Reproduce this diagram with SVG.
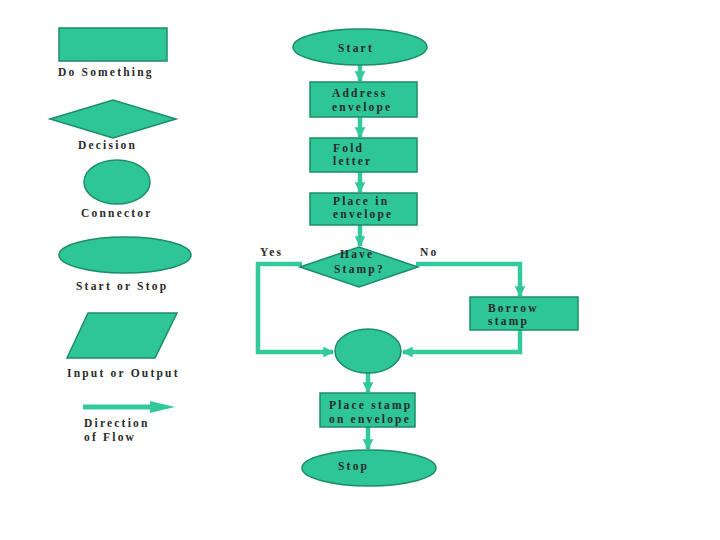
<svg xmlns="http://www.w3.org/2000/svg" width="720" height="540" viewBox="0 0 720 540">
<style>
.s{fill:#2ec597;stroke:#1d8c68;stroke-width:1.5}
.t{font-family:"Liberation Serif",serif;font-weight:bold;font-size:11.5px;fill:#2a2a2a;letter-spacing:2.2px}
.c{fill:none;stroke:#34c99b;stroke-width:4.5}
</style>
<defs>
<marker id="a" viewBox="0 0 10 10" refX="9" refY="5" markerWidth="2.4" markerHeight="2.4" orient="auto" markerUnits="strokeWidth">
<path d="M0,0L10,5L0,10z" fill="#34c99b"/>
</marker>
</defs>
<rect width="720" height="540" fill="#fff"/>
<g id="legend">
<g id="leg-rect"><rect class="s" x="59" y="28" width="108" height="33"/><text class="t" x="58" y="76">Do Something</text></g>
<g id="leg-decision"><polygon class="s" points="50,119 113,100 176,119 113,138"/><text class="t" x="78" y="149">Decision</text></g>
<g id="leg-connector"><ellipse class="s" cx="117" cy="182" rx="33" ry="22"/><text class="t" x="81" y="217">Connector</text></g>
<g id="leg-terminal"><ellipse class="s" cx="125" cy="255" rx="66" ry="18"/><text class="t" x="76" y="290">Start or Stop</text></g>
<g id="leg-io"><polygon class="s" points="88,313 177,313 155,358 67,358"/><text class="t" x="67" y="377">Input or Output</text></g>
<g id="leg-flow"><path d="M83,407H152" stroke="#34c99b" stroke-width="5"/><polygon points="150,401 175,407 150,413" fill="#34c99b"/><text class="t" x="84" y="427">Direction</text><text class="t" x="84" y="441">of Flow</text></g>
</g>
<g id="connectors">
<path class="c" d="M360,65V81" marker-end="url(#a)"/>
<path class="c" d="M360,117V137" marker-end="url(#a)"/>
<path class="c" d="M360,172V192" marker-end="url(#a)"/>
<path class="c" d="M360,225V246" marker-end="url(#a)"/>
<path class="c" d="M302,264H258V352H333" marker-end="url(#a)"/>
<path class="c" d="M416,264H520V296" marker-end="url(#a)"/>
<path class="c" d="M520,330V352H403" marker-end="url(#a)"/>
<path class="c" d="M368,372V392" marker-end="url(#a)"/>
<path class="c" d="M368,427V449" marker-end="url(#a)"/>
</g>
<g id="start"><ellipse class="s" cx="360" cy="47" rx="67" ry="18"/><text class="t" x="338" y="52">Start</text></g>
<g id="address"><rect class="s" x="310" y="82" width="107" height="35"/><text class="t" x="332" y="97">Address</text><text class="t" x="332" y="111">envelope</text></g>
<g id="fold"><rect class="s" x="310" y="138" width="107" height="34"/><text class="t" x="333" y="152">Fold</text><text class="t" x="333" y="165">letter</text></g>
<g id="place"><rect class="s" x="310" y="193" width="107" height="32"/><text class="t" x="333" y="205">Place in</text><text class="t" x="333" y="218">envelope</text></g>
<g id="decision"><polygon class="s" points="300,267 359,247 418,267 359,287"/><text class="t" x="340" y="258">Have</text><text class="t" x="334" y="273">Stamp?</text></g>
<text class="t" x="260" y="256">Yes</text>
<text class="t" x="420" y="256">No</text>
<g id="borrow"><rect class="s" x="470" y="297" width="108" height="33"/><text class="t" x="488" y="312">Borrow</text><text class="t" x="488" y="325">stamp</text></g>
<g id="connector"><ellipse class="s" cx="368" cy="351" rx="33" ry="22"/></g>
<g id="placestamp"><rect class="s" x="320" y="393" width="95" height="34"/><text class="t" x="329" y="409">Place stamp</text><text class="t" x="329" y="423">on envelope</text></g>
<g id="stop"><ellipse class="s" cx="369" cy="468" rx="67" ry="18"/><text class="t" x="338" y="470">Stop</text></g>
</svg>
